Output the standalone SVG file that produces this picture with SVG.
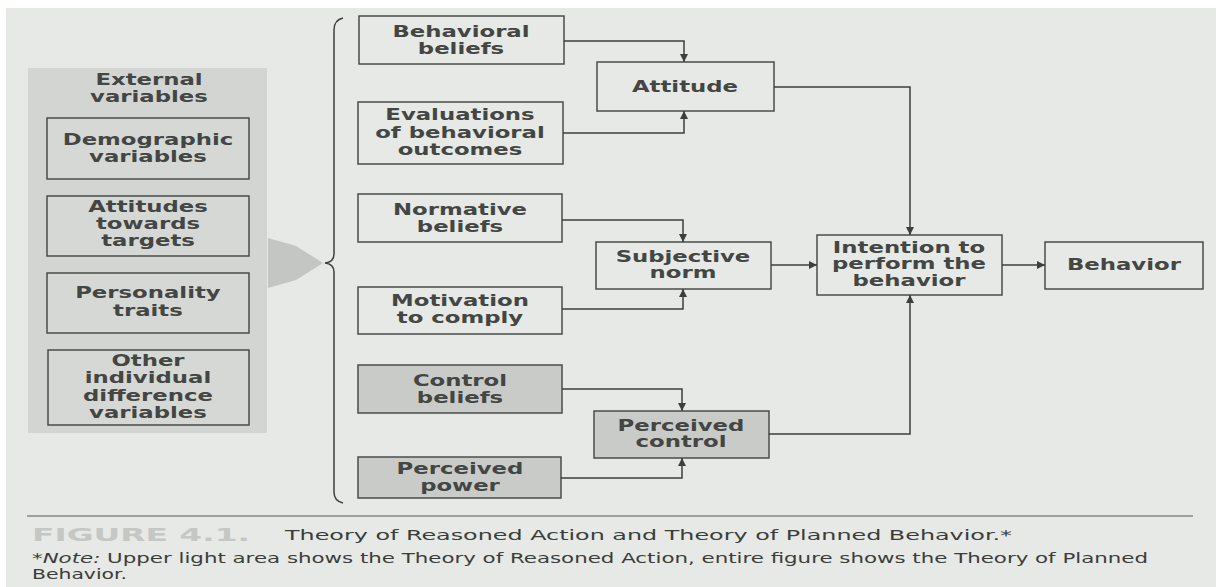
<svg xmlns="http://www.w3.org/2000/svg" width="1216" height="587" viewBox="0 0 1216 587">
  <style>
    .bx { fill: none; stroke: #4a4d4a; stroke-width: 1.5; }
    .bxs { fill: #c9cbc9; stroke: #4a4d4a; stroke-width: 1.5; }
    .bxe { fill: #d6d8d6; stroke: #4a4d4a; stroke-width: 1.5; }
    .t { font-family: "DejaVu Sans", "Open Sans", sans-serif; font-weight: bold; font-size: 15px; fill: #434643; text-anchor: middle; transform-box: fill-box; transform-origin: center; transform: scaleX(1.52); }
    .c { fill: none; stroke: #3c3f3c; stroke-width: 1.5; }
    .cap { font-family: "DejaVu Sans", "Open Sans", sans-serif; font-size: 14px; fill: #3a3d3a; }
  </style>
  <defs>
    <marker id="ah" viewBox="0 0 10 10" refX="10" refY="5" markerWidth="8" markerHeight="8" markerUnits="userSpaceOnUse" orient="auto">
      <path d="M0,0 L10,5 L0,10 Z" fill="#3c3f3c"/>
    </marker>
  </defs>

  <rect x="0" y="0" width="1216" height="587" fill="#ffffff"/>
  <rect x="6" y="8" width="1210" height="579" fill="#e6e9e6"/>

  <!-- External variables panel -->
  <g id="external-panel">
    <rect x="28" y="68" width="239" height="365" fill="#d3d5d3"/>
    <text class="t"><tspan x="149" y="85">External</tspan><tspan x="149" y="102">variables</tspan></text>
  </g>
  <g id="demographic">
    <rect class="bxe" x="47" y="118" width="202" height="61"/>
    <text class="t"><tspan x="148" y="145">Demographic</tspan><tspan x="148" y="162">variables</tspan></text>
  </g>
  <g id="attitudes-targets">
    <rect class="bxe" x="47" y="196" width="202" height="60"/>
    <text class="t"><tspan x="148" y="212">Attitudes</tspan><tspan x="148" y="229">towards</tspan><tspan x="148" y="246">targets</tspan></text>
  </g>
  <g id="personality">
    <rect class="bxe" x="47" y="273" width="202" height="60"/>
    <text class="t"><tspan x="148" y="298">Personality</tspan><tspan x="148" y="316">traits</tspan></text>
  </g>
  <g id="other">
    <rect class="bxe" x="48" y="350" width="201" height="75"/>
    <text class="t"><tspan x="148" y="366">Other</tspan><tspan x="148" y="383">individual</tspan><tspan x="148" y="401">difference</tspan><tspan x="148" y="418">variables</tspan></text>
  </g>

  <!-- big arrow and brace -->
  <g id="big-arrow">
    <polygon points="268,238 296,246 323,263 296,280 268,288" fill="#c3c6c3"/>
  </g>
  <g id="brace">
    <path class="c" d="M343,18 Q334,20 334,30 L334,254 Q334,262 325,263 Q334,264 334,272 L334,492 Q334,501 343,503" stroke-width="1.3"/>
  </g>

  <!-- Right side nodes -->
  <g id="behavioral-beliefs">
    <rect class="bx" x="359" y="16" width="205" height="48"/>
    <text class="t"><tspan x="461" y="37">Behavioral</tspan><tspan x="461" y="54">beliefs</tspan></text>
  </g>
  <g id="evaluations">
    <rect class="bx" x="358" y="102" width="205" height="62"/>
    <text class="t"><tspan x="460" y="120">Evaluations</tspan><tspan x="460" y="138">of behavioral</tspan><tspan x="460" y="155">outcomes</tspan></text>
  </g>
  <g id="normative-beliefs">
    <rect class="bx" x="358" y="194" width="204" height="48"/>
    <text class="t"><tspan x="460" y="215">Normative</tspan><tspan x="460" y="232">beliefs</tspan></text>
  </g>
  <g id="motivation">
    <rect class="bx" x="358" y="287" width="204" height="47"/>
    <text class="t"><tspan x="460" y="306">Motivation</tspan><tspan x="460" y="323">to comply</tspan></text>
  </g>
  <g id="control-beliefs">
    <rect class="bxs" x="358" y="365" width="204" height="48"/>
    <text class="t"><tspan x="460" y="386">Control</tspan><tspan x="460" y="403">beliefs</tspan></text>
  </g>
  <g id="perceived-power">
    <rect class="bxs" x="358" y="457" width="203" height="41"/>
    <text class="t"><tspan x="460" y="474">Perceived</tspan><tspan x="460" y="491">power</tspan></text>
  </g>
  <g id="attitude">
    <rect class="bx" x="597" y="62" width="177" height="49"/>
    <text class="t"><tspan x="685" y="92">Attitude</tspan></text>
  </g>
  <g id="subjective-norm">
    <rect class="bx" x="596" y="242" width="175" height="47"/>
    <text class="t"><tspan x="683" y="262">Subjective</tspan><tspan x="683" y="278">norm</tspan></text>
  </g>
  <g id="perceived-control">
    <rect class="bxs" x="594" y="411" width="175" height="47"/>
    <text class="t"><tspan x="681" y="431">Perceived</tspan><tspan x="681" y="447">control</tspan></text>
  </g>
  <g id="intention">
    <rect class="bx" x="817" y="235" width="185" height="60"/>
    <text class="t"><tspan x="909" y="253">Intention to</tspan><tspan x="909" y="269">perform the</tspan><tspan x="909" y="286">behavior</tspan></text>
  </g>
  <g id="behavior">
    <rect class="bx" x="1045" y="242" width="158" height="47"/>
    <text class="t"><tspan x="1124" y="270">Behavior</tspan></text>
  </g>

  <!-- connectors -->
  <g id="connectors">
    <path class="c" d="M564,41 H684 V62" marker-end="url(#ah)"/>
    <path class="c" d="M563,133 H684 V111" marker-end="url(#ah)"/>
    <path class="c" d="M774,87 H910 V235" marker-end="url(#ah)"/>
    <path class="c" d="M562,220 H683 V242" marker-end="url(#ah)"/>
    <path class="c" d="M562,309 H683 V289" marker-end="url(#ah)"/>
    <path class="c" d="M771,265 H817" marker-end="url(#ah)"/>
    <path class="c" d="M562,389 H682 V411" marker-end="url(#ah)"/>
    <path class="c" d="M561,478 H682 V458" marker-end="url(#ah)"/>
    <path class="c" d="M769,434 H910 V295" marker-end="url(#ah)"/>
    <path class="c" d="M1002,265 H1045" marker-end="url(#ah)"/>
  </g>

  <!-- caption -->
  <g id="caption">
    <line x1="27" y1="516" x2="1193" y2="516" stroke="#555855" stroke-width="1.2"/>
    <text x="32" y="541" font-family="DejaVu Sans, sans-serif" font-weight="bold" font-size="18" fill="#c4c7c4" textLength="218" lengthAdjust="spacingAndGlyphs">FIGURE 4.1.</text>
    <text class="cap" x="285" y="540" textLength="727" lengthAdjust="spacingAndGlyphs">Theory of Reasoned Action and Theory of Planned Behavior.*</text>
    <text class="cap" x="32" y="563" font-size="13" textLength="1116" lengthAdjust="spacingAndGlyphs">*<tspan font-style="italic">Note:</tspan> Upper light area shows the Theory of Reasoned Action, entire figure shows the Theory of Planned</text>
    <text class="cap" x="32" y="579" font-size="13" textLength="95" lengthAdjust="spacingAndGlyphs">Behavior.</text>
  </g>
</svg>
